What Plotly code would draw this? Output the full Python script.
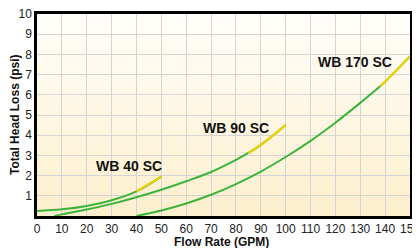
import plotly.graph_objects as go

# ---- data ----
wb40_flow = [0, 10, 20, 30, 40, 50]
wb40_loss = [0.25, 0.33, 0.5, 0.78, 1.22, 1.95]
wb40_split = 40

wb90_flow = [7, 10, 20, 30, 40, 50, 60, 70, 80, 85, 90, 100]
wb90_loss = [0.0, 0.08, 0.32, 0.6, 0.93, 1.3, 1.72, 2.18, 2.78, 3.12, 3.52, 4.5]
wb90_split = 85

wb170_flow = [40, 50, 60, 70, 80, 90, 100, 110, 120, 130, 138, 140, 150]
wb170_loss = [0.0, 0.27, 0.62, 1.05, 1.58, 2.2, 2.92, 3.72, 4.62, 5.6, 6.42, 6.65, 7.9]
wb170_split = 138

series = [
    ("WB 40 SC", wb40_flow, wb40_loss, wb40_split),
    ("WB 90 SC", wb90_flow, wb90_loss, wb90_split),
    ("WB 170 SC", wb170_flow, wb170_loss, wb170_split),
]
label_pos = {"WB 40 SC": (37, 2.5), "WB 90 SC": (80, 4.37), "WB 170 SC": (128, 7.6)}

x_ticks = list(range(0, 151, 10))
y_ticks = list(range(1, 11))

GREEN = "#3cb43c"
YELLOW = "#f2d000"
FONT = "Liberation Sans, Arial"

fig = go.Figure()
for name, xs, ys, split in series:
    fig.add_trace(go.Scatter(x=xs, y=ys, mode="lines", line=dict(color=GREEN, width=2, shape="spline"),
                             showlegend=False, hoverinfo="skip"))
    yx = [x for x in xs if x >= split]
    yy = [y for x, y in zip(xs, ys) if x >= split]
    fig.add_trace(go.Scatter(x=yx, y=yy, mode="lines", line=dict(color=YELLOW, width=2.2, shape="spline"),
                             showlegend=False, hoverinfo="skip"))
    lx, ly = label_pos[name]
    fig.add_annotation(x=lx, y=ly, text="<b>%s</b>" % name, showarrow=False,
                       font=dict(family=FONT, size=14, color="#111111"))

# axis titles
fig.add_annotation(xref="paper", yref="paper", x=0.495, y=-0.128, yanchor="middle", xanchor="center",
                   text="<b>Flow Rate (GPM)</b>", showarrow=False,
                   font=dict(family=FONT, size=12, color="#111111"))
fig.add_annotation(xref="paper", yref="paper", x=-0.059, y=0.5, xanchor="center", yanchor="middle",
                   text="<b>Total Head Loss (psi)</b>", textangle=-90, showarrow=False,
                   font=dict(family=FONT, size=12, color="#111111"))

# background gradient (white at top to cream at bottom)
n = 40
top = (255, 254, 250)
bot = (253, 239, 204)
shapes = []
for i in range(n):
    t = (i + 0.5) / n
    c = tuple(int(round(top[k] + (bot[k] - top[k]) * t)) for k in range(3))
    shapes.append(dict(type="rect", xref="paper", yref="paper", x0=0, x1=1,
                       y0=1 - (i + 1) / n, y1=1 - i / n + 0.001,
                       fillcolor="rgb(%d,%d,%d)" % c, line=dict(width=0), layer="below"))

# page body has an 8px margin; size the figure to fit the 420x248 window
fig.update_layout(
    width=412, height=240,
    margin=dict(l=29, r=10, t=6, b=32, autoexpand=False),
    paper_bgcolor="white", plot_bgcolor="white",
    shapes=shapes,
    font=dict(family=FONT, size=12, color="#222222"),
)
fig.update_xaxes(range=[0, 150], tickvals=x_ticks, showgrid=True, gridcolor="#d4d4d4", gridwidth=1,
                 showline=True, linecolor="black", linewidth=2.5, mirror=True, zeroline=False,
                 ticks="", tickfont=dict(size=12), automargin=False, tickangle=0,
                 ticklabeloverflow="allow")
fig.update_yaxes(range=[0, 10], tickvals=y_ticks, showgrid=True, gridcolor="#d4d4d4", gridwidth=1,
                 showline=True, linecolor="black", linewidth=2.5, mirror=True, zeroline=False,
                 ticks="", tickfont=dict(size=12), automargin=False, ticklabeloverflow="allow")

fig.write_html("out.html")
